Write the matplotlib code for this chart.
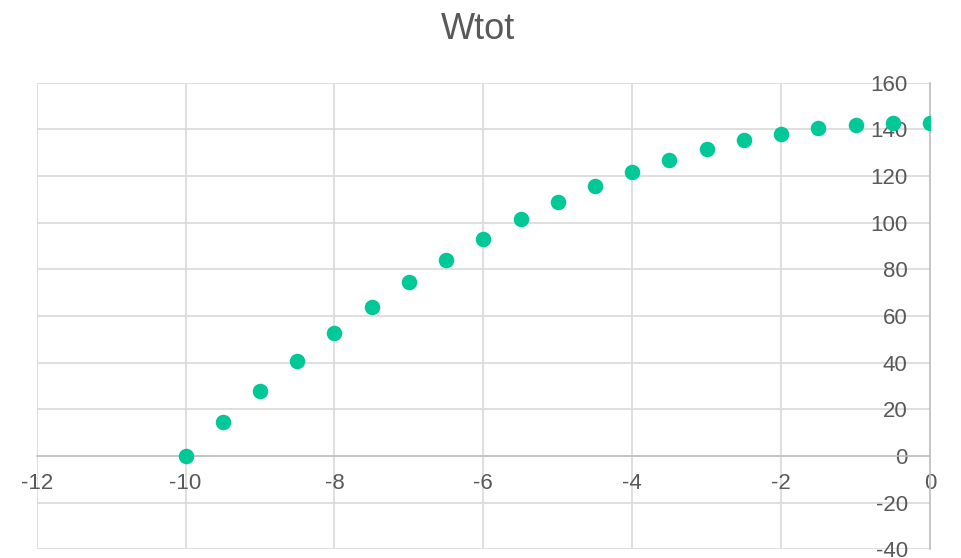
import matplotlib
matplotlib.use("Agg")
import matplotlib.pyplot as plt

# Wtot versus x
x_values = [-10, -9.5, -9, -8.5, -8, -7.5, -7, -6.5, -6, -5.5, -5,
            -4.5, -4, -3.5, -3, -2.5, -2, -1.5, -1, -0.5, 0]
wtot = [0, 14.4, 27.9, 40.6, 52.7, 64.0, 74.4, 84.1, 93.0, 101.4, 108.7,
        115.6, 121.6, 126.9, 131.4, 135.3, 138.1, 140.4, 142.0, 142.7, 142.7]
x_ticks = [-12, -10, -8, -6, -4, -2, 0]
y_ticks = [-40, -20, 0, 20, 40, 60, 80, 100, 120, 140, 160]

plt.rcParams['font.family'] = ['Liberation Sans', 'DejaVu Sans']

fig = plt.figure(figsize=(9.62, 5.58), dpi=100)
ax = fig.add_axes([0.0381, 0.0156, 0.9286, 0.8362])

grid_c = '#D9D9D9'
axis_c = '#BFBFBF'
text_c = '#595959'

ax.scatter(x_values, wtot, s=125, color='#00C896', zorder=3, linewidths=0)

ax.set_xlim(-12, 0)
ax.set_ylim(-40, 160)
ax.set_xticks(x_ticks)
ax.set_yticks(y_ticks)
ax.set_xticklabels([str(v) for v in x_ticks])
ax.set_yticklabels([str(v) for v in y_ticks])

ax.grid(True, color=grid_c, linewidth=1.2, zorder=0)
for gl in ax.get_xgridlines() + ax.get_ygridlines():
    gl.set_clip_on(False)
ax.set_axisbelow(True)

ax.spines['left'].set_position(('data', 0))
ax.spines['bottom'].set_position(('data', 0))
for s in ['left', 'bottom']:
    ax.spines[s].set_color(axis_c)
    ax.spines[s].set_linewidth(1.2)
for s in ['top', 'right']:
    ax.spines[s].set_visible(False)

ax.tick_params(axis='both', length=0, labelsize=16, labelcolor=text_c)
ax.tick_params(axis='y', pad=16)
ax.tick_params(axis='x', pad=12)

fig.text(0.497, 0.947, 'Wtot', ha='center', va='center', fontsize=26, color=text_c)

fig.savefig('out.png', dpi=100)
